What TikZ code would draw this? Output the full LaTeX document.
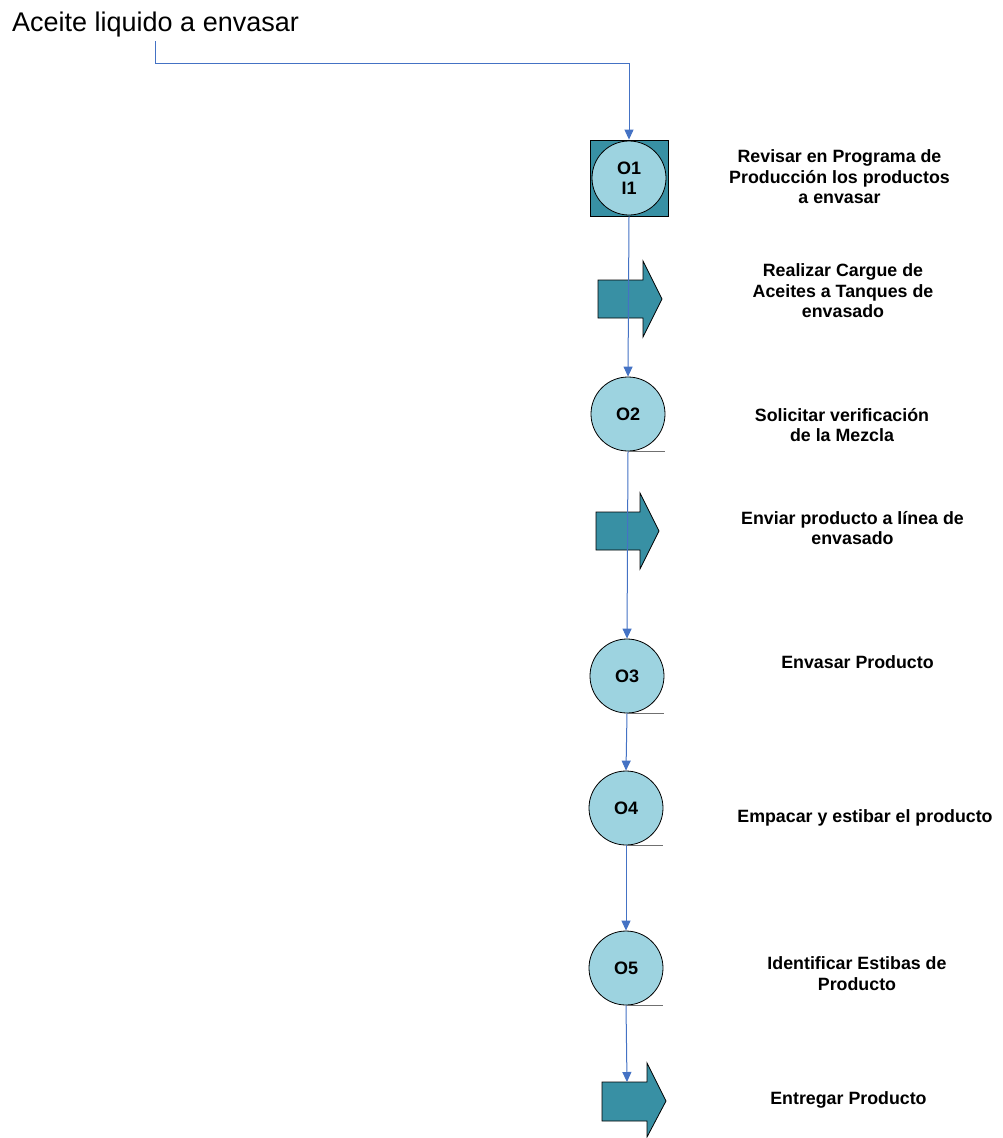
\documentclass[tikz,border=0pt]{standalone}
\usepackage{fontspec}
\setmainfont{Liberation Sans}
\usetikzlibrary{arrows.meta}
\definecolor{tealc}{HTML}{3890A4}
\definecolor{lightc}{HTML}{9DD3E0}
\definecolor{flowc}{HTML}{4472C4}
\definecolor{tickc}{HTML}{707070}
\begin{document}
\begin{tikzpicture}[x=1pt,y=-1pt,
  flow/.style={draw=flowc, line width=1pt, -{Triangle[width=9pt,length=10pt]}},
  opcircle/.style={circle, draw=black, line width=0.8pt, fill=lightc, minimum size=74pt, inner sep=0pt, font=\fontsize{18}{20}\selectfont\bfseries},
  opbox/.style={rectangle, draw=black, line width=0.8pt, fill=tealc, minimum width=78pt, minimum height=76pt, inner sep=0pt},
  arrowshape/.style={draw=black, line width=0.8pt, fill=tealc},
  tick/.style={draw=tickc, line width=1pt},
  lbl/.style={align=center, inner sep=0pt, font=\fontsize{17.8}{20.5}\selectfont\bfseries}
]
\useasboundingbox (0,0) rectangle (1002,1138);

% title
\node[anchor=base west, inner sep=0pt, font=\fontsize{27}{30}\selectfont] (title) at (12,31) {Aceite liquido a envasar};
\coordinate (start) at (155,41);

% transport arrows (drawn first, connectors pass over them)
\draw[arrowshape] (598,280) -- (643,280) -- (643,261) -- (662,299) -- (643,337) -- (643,318) -- (598,318) -- cycle;
\draw[arrowshape] (596,512) -- (640,512) -- (640,493) -- (659,531) -- (640,569) -- (640,550) -- (596,550) -- cycle;
\draw[arrowshape] (602,1082) -- (647,1082) -- (647,1063) -- (666,1101) -- (647,1137) -- (647,1121) -- (602,1121) -- cycle;
\coordinate (a3top) at (627,1082);

% operations
\node[opbox] (o1) at (629,178) {};
\node[opcircle, align=center] (o1c) at (629,178) {O1\\I1};
\node[opcircle] (o2) at (628,414) {O2};
\node[opcircle] (o3) at (627,676) {O3};
\node[opcircle] (o4) at (626,808) {O4};
\node[opcircle] (o5) at (626,968) {O5};

% ticks
\draw[tick] (o2.south) -- ++(37,0);
\draw[tick] (o3.south) -- ++(37,0);
\draw[tick] (o4.south) -- ++(37,0);
\draw[tick] (o5.south) -- ++(37,0);

% connectors
\draw[flow] (start) -- (155,63) -| (o1.north);
\draw[flow] (o1.south) -- (o2.north);
\draw[flow] (o2.south) -- (o3.north);
\draw[flow] (o3.south) -- (o4.north);
\draw[flow] (o4.south) -- (o5.north);
\draw[flow] (o5.south) -- (a3top);

% labels
\node[lbl] (l1) at (839.5,177) {Revisar en Programa de\\Producción los productos\\a envasar};
\node[lbl] (l2) at (843,291) {Realizar Cargue de\\Aceites a Tanques de\\envasado};
\node[lbl] (l3) at (842,425) {Solicitar verificación\\de la Mezcla};
\node[lbl] (l4) at (852.5,528) {Enviar producto a línea de\\envasado};
\node[lbl] (l5) at (857.5,662) {Envasar Producto};
\node[lbl] (l6) at (865,818) {Empacar y estibar el producto};
\node[lbl] (l7) at (857,973.5) {Identificar Estibas de\\Producto};
\node[lbl] (l8) at (848.5,1100) {Entregar Producto};
\end{tikzpicture}
\end{document}
